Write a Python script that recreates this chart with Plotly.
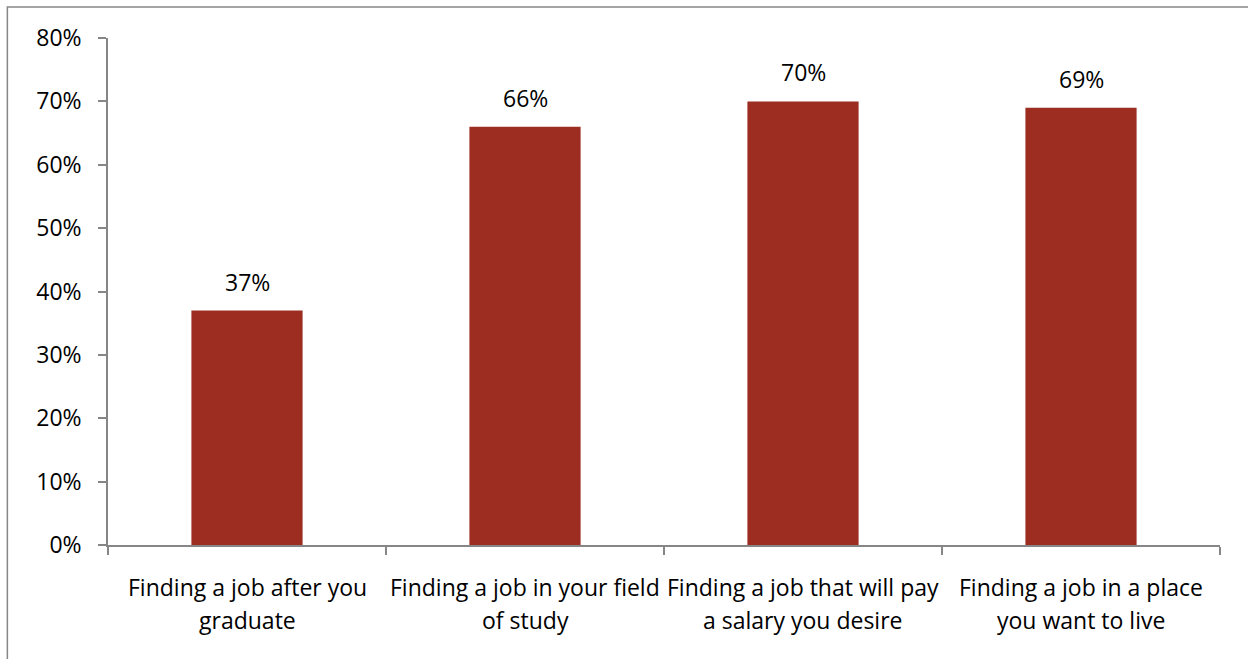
import plotly.graph_objects as go

categories = [
    "Finding a job after you<br>graduate",
    "Finding a job in your field<br>of study",
    "Finding a job that will pay<br>a salary you desire",
    "Finding a job in a place<br>you want to live",
]
shares = [0.37, 0.66, 0.70, 0.69]
y_ticks = [0, 0.1, 0.2, 0.3, 0.4, 0.5, 0.6, 0.7, 0.8]

FONT = "Open Sans"
FSIZE = 23
AXIS_GRAY = "#868686"
BAR_RED = "#9C2D20"

fig = go.Figure(
    go.Bar(
        x=categories,
        y=shares,
        marker=dict(color=BAR_RED, line=dict(width=0)),
        width=0.4,
        hoverinfo="skip",
    )
)

# value labels above each bar
for cat, val in zip(categories, shares):
    fig.add_annotation(
        x=cat, y=val, text=f"{round(val * 100)}%",
        showarrow=False, yanchor="bottom", yshift=11,
        font=dict(family=FONT, size=FSIZE, color="black"),
    )

# category labels below the axis, one annotation per line for wider spacing
for cat in categories:
    for i, line in enumerate(cat.split("<br>")):
        fig.add_annotation(
            x=cat, y=0, yref="paper", text=line,
            showarrow=False, yanchor="middle", yshift=-42 - 33 * i,
            font=dict(family=FONT, size=FSIZE, color="black"),
        )

# chart frame
fig.add_shape(
    type="rect", xref="paper", yref="paper",
    x0=-0.0905, y0=-1.0, x1=2.0, y1=1.061,
    line=dict(color=AXIS_GRAY, width=1.5), fillcolor="rgba(0,0,0,0)",
    layer="below",
)

fig.update_layout(
    width=1248, height=659,
    margin=dict(l=108, r=28, t=38, b=114),
    paper_bgcolor="white", plot_bgcolor="white",
    showlegend=False,
    font=dict(family=FONT, size=FSIZE, color="black"),
    xaxis=dict(
        showline=True, linecolor=AXIS_GRAY, linewidth=1.5,
        ticks="outside", tickson="boundaries", ticklen=8,
        tickcolor=AXIS_GRAY, tickwidth=1.5,
        showgrid=False, showticklabels=False,
    ),
    yaxis=dict(
        range=[0, 0.8], tickvals=y_ticks, tickformat=".0%",
        showline=True, linecolor=AXIS_GRAY, linewidth=1.5,
        ticks="outside", ticklen=8, tickcolor=AXIS_GRAY, tickwidth=1.5,
        showgrid=False, zeroline=False, ticklabelstandoff=12,
        tickfont=dict(family=FONT, size=FSIZE, color="black"),
    ),
)

fig.write_html("out.html")
